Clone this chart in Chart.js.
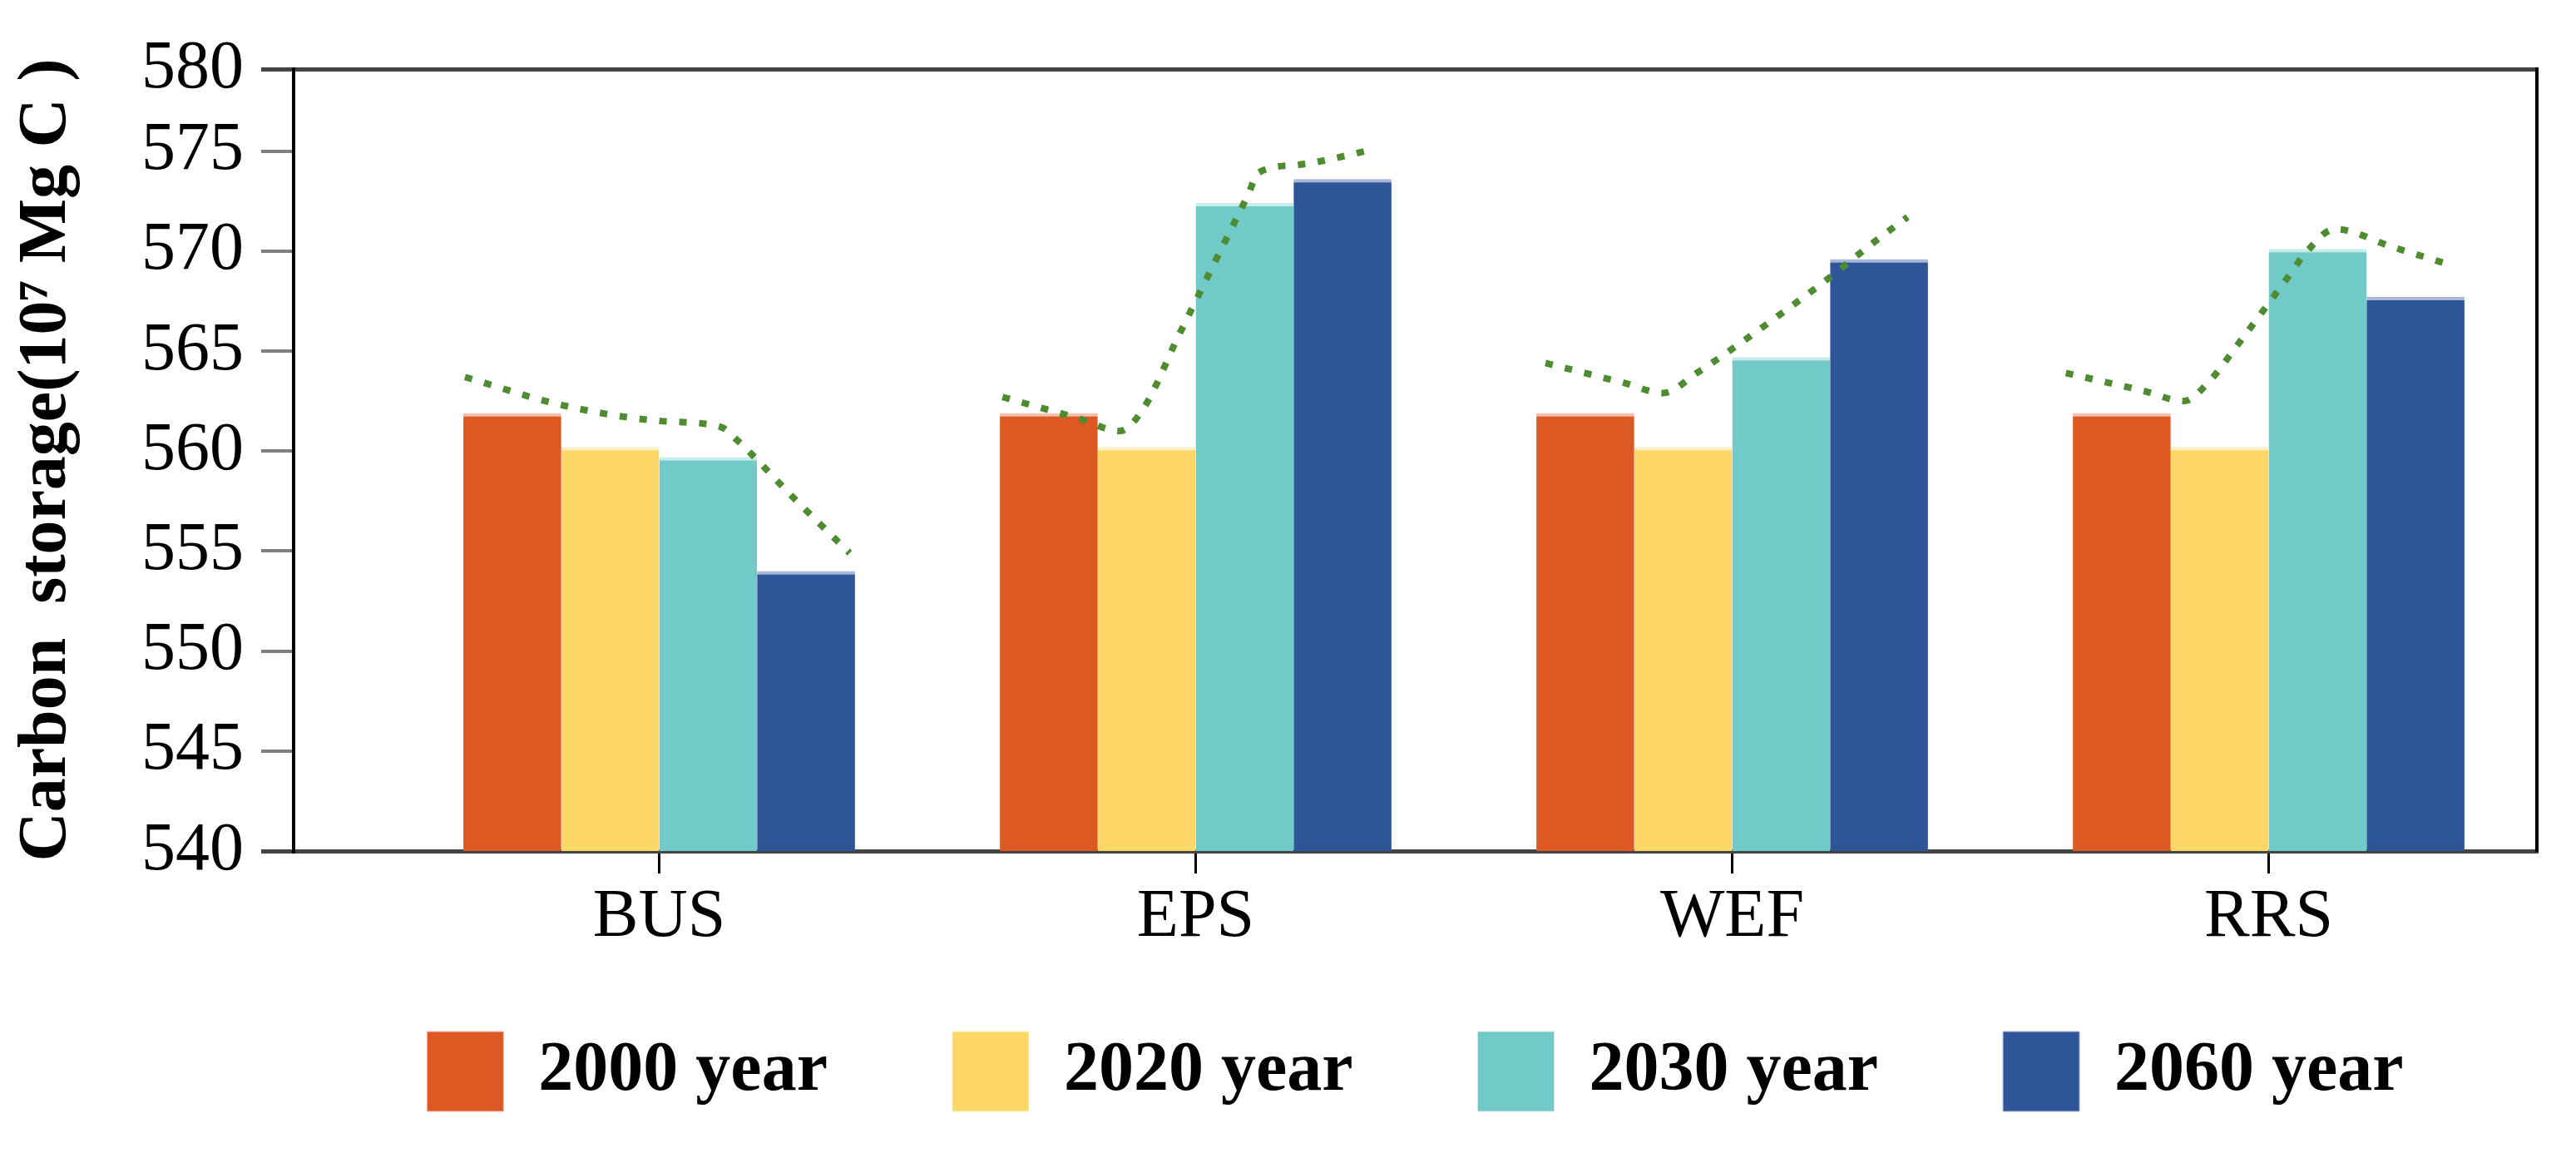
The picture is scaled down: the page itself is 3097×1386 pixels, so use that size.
<!DOCTYPE html>
<html>
<head>
<meta charset="utf-8">
<script src="https://cdn.jsdelivr.net/npm/chart.js@4.4.1/dist/chart.umd.min.js"></script>
<style>
  html, body { margin: 0; padding: 0; background: #fff; }
  #wrap { width: 3097px; height: 1386px; }
</style>
</head>
<body>
<div id="wrap"><canvas id="storageChart" width="3097" height="1386"></canvas></div>
<script>
// Scenarios on the x axis
const scenarios = ['BUS', 'EPS', 'WEF', 'RRS'];

// Carbon storage (10^7 Mg C) per year, one value per scenario
const years = ['2000 year', '2020 year', '2030 year', '2060 year'];
const storage2000 = [561.9, 561.9, 561.9, 561.9];
const storage2020 = [560.2, 560.2, 560.2, 560.2];
const storage2030 = [559.7, 572.4, 564.7, 570.1];
const storage2060 = [554.0, 573.6, 569.6, 567.7];

// y ticks: the frame top sits a bit under 580 but carries the "580" label
const yTicks = [540, 545, 550, 555, 560, 565, 570, 575, 579.1];
const yTickLabels = ['540', '545', '550', '555', '560', '565', '570', '575', '580'];

// dotted trend inside each group: offset from the group centre (category units) and value
const trendX = [
    [-0.362, -0.182, 0.003, 0.115, 0.143, 0.249, 0.355],
    [-0.360, -0.215, -0.142, -0.098, -0.033, 0.033, 0.099, 0.116, 0.187, 0.335],
    [-0.348, -0.201, -0.129, -0.066, 0.057, 0.178, 0.267, 0.327],
    [-0.378, -0.232, -0.158, -0.107, -0.061, 0.028, 0.072, 0.123, 0.231, 0.339]
];
const trendY = [
    [563.7, 562.3, 561.5, 561.2, 560.6, 557.7, 554.9],
    [562.7, 561.6, 561.0, 562.1, 565.7, 569.3, 572.9, 573.9, 574.3, 575.1],
    [564.4, 563.4, 562.9, 563.9, 566.2, 568.6, 570.5, 571.7],
    [563.9, 563.0, 562.5, 563.6, 565.2, 568.4, 570.0, 571.1, 570.2, 569.3]
];

const fillColors = ['#DC5924', '#FDD868', '#71C9C8', '#2E5597'];
const edgeColors = ['#F3C2AE', '#FFF0C4', '#C9EBEA', '#A9B8D8'];
const frameColor = '#444444';
const legendRowGap = 82; // from the bottom of the x labels box to the legend row

Chart.defaults.font.family = "'Liberation Serif', 'Times New Roman', serif";
Chart.defaults.color = '#000';

const isFrameTick = (ctx) => ctx.index === 0 || ctx.index === yTicks.length - 1;

// bars and trend lines share one hidden linear x scale (group g sits at x = g),
// the category axis only carries the scenario labels
const barSeries = [storage2000, storage2020, storage2030, storage2060];
const barSets = barSeries.map((values, i) => ({
    type: 'bar',
    label: years[i],
    data: values.map((v, g) => ({ x: g, y: v })),
    xAxisID: 'xGroup',
    yAxisID: 'y',
    backgroundColor: fillColors[i],
    borderColor: edgeColors[i],
    borderWidth: { top: 4, right: 0, bottom: 0, left: 0 },
    borderSkipped: 'bottom',
    categoryPercentage: 0.73,
    barPercentage: 1.0,
    order: 1
}));

// one line per group so the curves stay independent
const trendSets = scenarios.map((name, g) => ({
    type: 'line',
    label: name + ' trend',
    xAxisID: 'xGroup',
    yAxisID: 'y',
    data: trendX[g].map((dx, k) => ({ x: g + dx, y: trendY[g][k] })),
    borderColor: '#4E8B31',
    borderWidth: 8,
    borderDash: [9, 15],
    borderCapStyle: 'butt',
    pointRadius: 0,
    fill: false,
    cubicInterpolationMode: 'monotone',
    order: 0
}));

// legend: centred under the plot frame, row a fixed gap below the x labels
const legendPlacement = {
    id: 'legendPlacement',
    afterLayout(chart) {
        const lg = chart.legend;
        const frameMid = (chart.scales.y.right + chart.chartArea.right) / 2;
        const dx = frameMid - (lg.left + lg.right) / 2;
        lg.left += dx;
        lg.right += dx;
        lg.top = chart.scales.x.bottom + legendRowGap - lg.options.labels.padding;
    }
};

new Chart(document.getElementById('storageChart'), {
    type: 'bar',
    data: {
        labels: scenarios,
        datasets: [...barSets, ...trendSets]
    },
    plugins: [legendPlacement],
    options: {
        responsive: false,
        devicePixelRatio: 1,
        animation: false,
        layout: { padding: { top: 83, right: 47, bottom: 0, left: 0 } },
        scales: {
            x: {
                type: 'category',
                position: 'bottom',
                offset: true,
                afterFit: (s) => { s.height = 135; },
                ticks: { color: '#000', font: { size: 82 }, padding: 4, autoSkip: false, maxRotation: 0 },
                grid: { offset: false, drawOnChartArea: false, tickLength: 27, lineWidth: 3, color: '#000' },
                border: { display: true, color: frameColor, width: 5 }
            },
            xGroup: {
                type: 'linear',
                display: false,
                offset: false,
                min: -0.5,
                max: scenarios.length - 0.5,
                afterBuildTicks: (s) => { s.ticks = scenarios.map((_, g) => ({ value: g })); }
            },
            xTop: {
                type: 'linear',
                position: 'top',
                min: 0,
                max: 1,
                ticks: { display: false },
                grid: { display: false, drawTicks: false },
                border: { display: true, color: frameColor, width: 5 }
            },
            y: {
                type: 'linear',
                position: 'left',
                weight: 2,
                min: yTicks[0],
                max: yTicks[yTicks.length - 1],
                afterBuildTicks: (s) => { s.ticks = yTicks.map(v => ({ value: v })); },
                afterFit: (s) => { s.width = 353; },
                ticks: {
                    autoSkip: false,
                    padding: 21,
                    color: '#000',
                    font: { size: 82 },
                    callback: (v, i) => yTickLabels[i]
                },
                grid: {
                    drawOnChartArea: false,
                    tickLength: 39,
                    lineWidth: (ctx) => isFrameTick(ctx) ? 5 : 4,
                    color: (ctx) => isFrameTick(ctx) ? frameColor : '#7f7f7f'
                },
                border: { display: true, color: '#000', width: 4 },
                title: {
                    display: true,
                    text: 'Carbon  storage(10⁷ Mg C )',
                    color: '#000',
                    font: { size: 82, weight: 'bold' },
                    padding: { top: 8, bottom: 0 }
                }
            },
            yPad: {
                // empty strip between the y axis and the first group; its ticks continue the frame
                type: 'linear',
                position: 'left',
                weight: 1,
                min: yTicks[0],
                max: yTicks[yTicks.length - 1],
                afterBuildTicks: (s) => { s.ticks = [{ value: yTicks[0] }, { value: yTicks[yTicks.length - 1] }]; },
                afterFit: (s) => { s.width = 117; },
                ticks: { display: false },
                grid: { drawOnChartArea: false, tickLength: 117, lineWidth: 5, color: frameColor },
                border: { display: false }
            },
            y2: {
                type: 'linear',
                position: 'right',
                min: 0,
                max: 1,
                ticks: { display: false },
                grid: { display: false, drawTicks: false },
                border: { display: true, color: '#000', width: 4 }
            }
        },
        plugins: {
            tooltip: { enabled: false },
            legend: {
                position: 'bottom',
                fullSize: true,
                maxHeight: 228,
                labels: {
                    boxWidth: 92,
                    boxHeight: 96,
                    padding: 150,
                    color: '#000',
                    font: { size: 84, weight: 'bold' },
                    filter: (item) => item.datasetIndex < barSets.length
                }
            }
        }
    }
});
</script>
</body>
</html>
